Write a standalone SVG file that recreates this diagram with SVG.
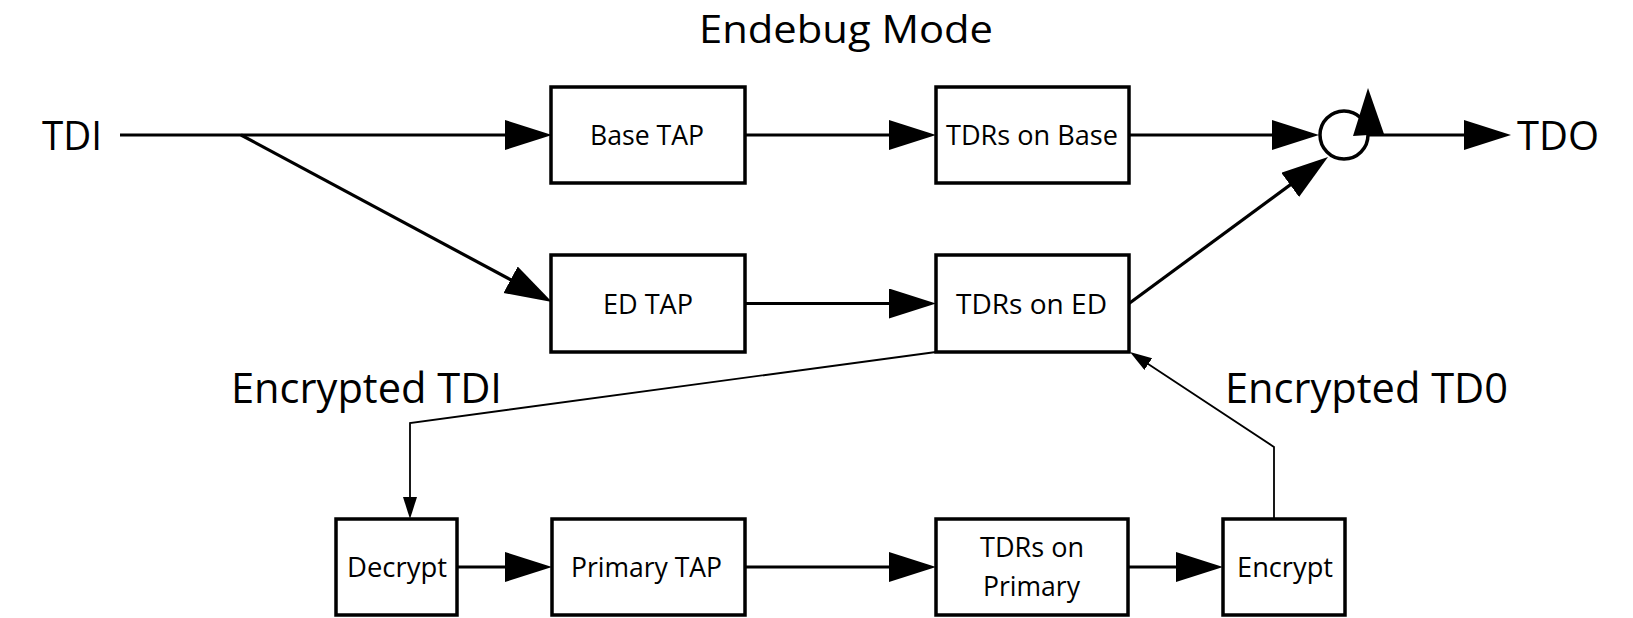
<svg xmlns="http://www.w3.org/2000/svg" width="1633" height="618" viewBox="0 0 1633 618">
<style>
.box{fill:#fff;stroke:#000;stroke-width:3.5}
.t{font-family:"Open Sans","Noto Sans",sans-serif;fill:#000;font-size:28px}
.lbl{font-family:"Open Sans","Noto Sans",sans-serif;fill:#000}
.c{fill:none;stroke:#000;stroke-width:3.2}
.thin{fill:none;stroke:#000;stroke-width:1.8}
</style>
<defs>
<marker id="big" markerUnits="userSpaceOnUse" markerWidth="48" markerHeight="31" refX="27" refY="15" orient="auto"><path d="M0,0 L47,15 L0,30 z" fill="#000"/></marker>
<marker id="small" markerUnits="userSpaceOnUse" markerWidth="23" markerHeight="15" refX="12" refY="7" orient="auto"><path d="M0,0 L22,7 L0,14 z" fill="#000"/></marker>
</defs>
<rect width="1633" height="618" fill="#fff"/>
<g id="labels">
<text class="lbl" x="699" y="43" font-size="39" textLength="294" lengthAdjust="spacingAndGlyphs">Endebug Mode</text>
<text class="lbl" x="42" y="150" font-size="41" textLength="60" lengthAdjust="spacingAndGlyphs">TDI</text>
<text class="lbl" x="1517" y="150" font-size="41" textLength="82" lengthAdjust="spacingAndGlyphs">TDO</text>
<text class="lbl" x="231" y="403" font-size="42" textLength="271" lengthAdjust="spacingAndGlyphs">Encrypted TDI</text>
<text class="lbl" x="1225" y="403" font-size="42" textLength="283" lengthAdjust="spacingAndGlyphs">Encrypted TD0</text>
</g>
<g id="connectors">
<path class="c" d="M120,135 L532,135" marker-end="url(#big)"/>
<path class="c" d="M241,135 L534.4,292.5" marker-end="url(#big)"/>
<path class="c" d="M745,135 L916,135" marker-end="url(#big)"/>
<path class="c" d="M1129,135 L1299,135" marker-end="url(#big)"/>
<path class="c" d="M1369,135 L1491,135" marker-end="url(#big)"/>
<path class="c" d="M745,303.5 L916,303.5" marker-end="url(#big)"/>
<path class="c" d="M1129,303.5 L1311.9,168.9" marker-end="url(#big)"/>
<path class="thin" d="M936,352 L410,423 L410,509" marker-end="url(#small)"/>
<path class="thin" d="M1274,519 L1274,447 L1138.3,357.5" marker-end="url(#small)"/>
<path class="c" d="M457,567 L532,567" marker-end="url(#big)"/>
<path class="c" d="M745,567 L916,567" marker-end="url(#big)"/>
<path class="c" d="M1128,567 L1203,567" marker-end="url(#big)"/>
</g>
<g id="node-base-tap"><rect class="box" x="551" y="87" width="194" height="96"/><text class="t" x="590" y="145" textLength="114" lengthAdjust="spacingAndGlyphs">Base TAP</text></g>
<g id="node-tdrs-base"><rect class="box" x="936" y="87" width="193" height="96"/><text class="t" x="946" y="145" textLength="172" lengthAdjust="spacingAndGlyphs">TDRs on Base</text></g>
<g id="node-ed-tap"><rect class="box" x="551" y="255" width="194" height="97"/><text class="t" x="603" y="314" textLength="90" lengthAdjust="spacingAndGlyphs">ED TAP</text></g>
<g id="node-tdrs-ed"><rect class="box" x="936" y="255" width="193" height="97"/><text class="t" x="956" y="314" textLength="151" lengthAdjust="spacingAndGlyphs">TDRs on ED</text></g>
<g id="node-decrypt"><rect class="box" x="336" y="519" width="121" height="96"/><text class="t" x="347" y="577" textLength="100" lengthAdjust="spacingAndGlyphs">Decrypt</text></g>
<g id="node-primary-tap"><rect class="box" x="552" y="519" width="193" height="96"/><text class="t" x="571" y="577" textLength="151" lengthAdjust="spacingAndGlyphs">Primary TAP</text></g>
<g id="node-tdrs-primary"><rect class="box" x="936" y="519" width="192" height="96"/><text class="t" x="980" y="557" textLength="104" lengthAdjust="spacingAndGlyphs">TDRs on</text><text class="t" x="983" y="596" textLength="97" lengthAdjust="spacingAndGlyphs">Primary</text></g>
<g id="node-encrypt"><rect class="box" x="1223" y="519" width="122" height="96"/><text class="t" x="1237" y="577" textLength="96" lengthAdjust="spacingAndGlyphs">Encrypt</text></g>
<g id="node-or"><circle cx="1344" cy="135" r="24" fill="#fff" stroke="#000" stroke-width="3.5"/><polygon points="1368,88 1384,134 1353,136" fill="#000"/></g>
</svg>
